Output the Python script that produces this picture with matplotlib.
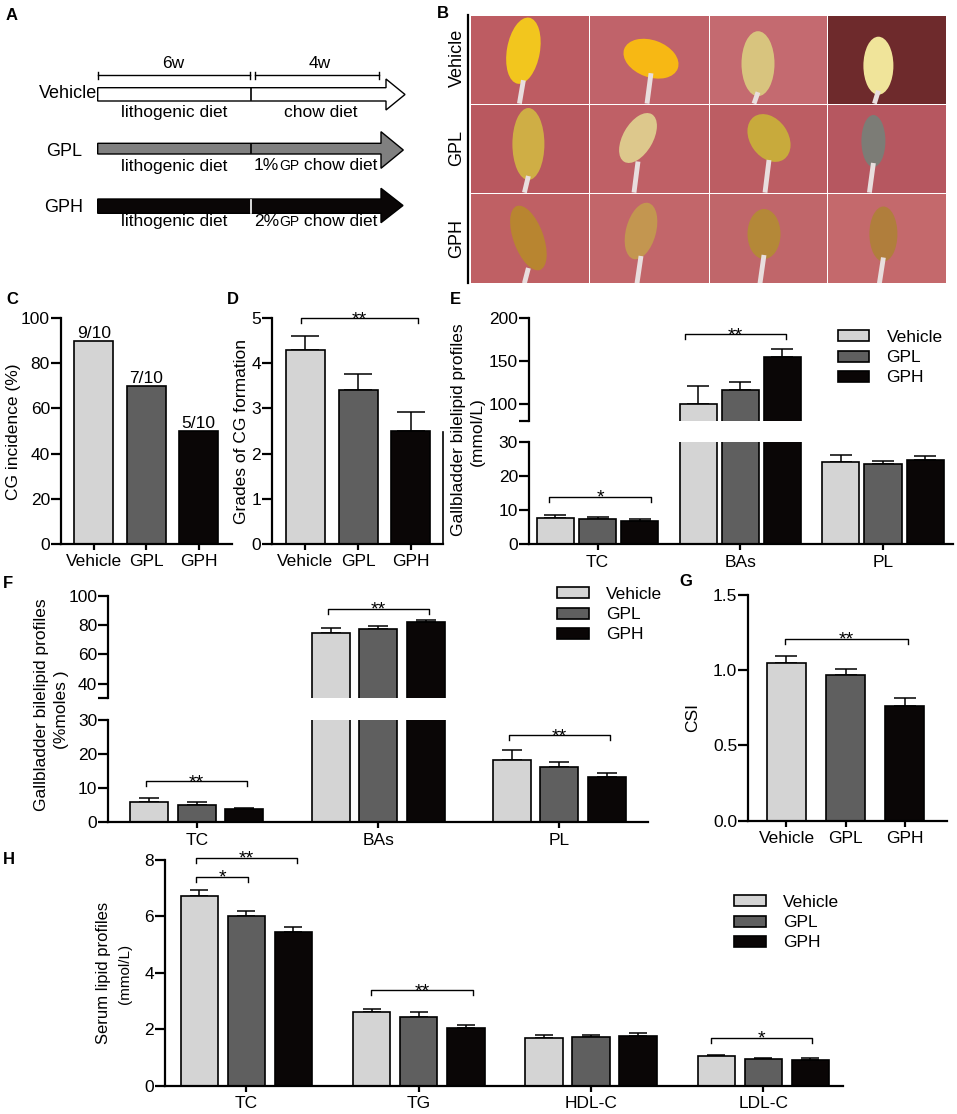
import numpy as np
import matplotlib
matplotlib.use('Agg')
import matplotlib.pyplot as plt
from matplotlib.patches import Polygon, Rectangle, Ellipse, Patch

plt.rcParams['font.family'] = ['Liberation Sans', 'DejaVu Sans']
plt.rcParams['font.size'] = 12

W, H = 957, 1114
groups = ['Vehicle', 'GPL', 'GPH']
colors = ['#d4d4d4', '#5f5f5f', '#0a0606']

# C: gallstone incidence
incidence = [90, 70, 50]
incidence_txt = ['9/10', '7/10', '5/10']

# D: grades of CG formation
grade_mean = [4.3, 3.4, 2.5]
grade_err = [0.3, 0.37, 0.42]

# E: gallbladder bile lipids (mmol/L)
bile_cats = ['TC', 'BAs', 'PL']
e_mean = [[7.8, 99.6, 24.1], [7.5, 116.0, 23.5], [6.85, 154.5, 24.8]]
e_err = [[0.8, 21.2, 2.1], [0.4, 10.0, 0.9], [0.45, 9.8, 1.1]]

# F: gallbladder bile lipids (% moles)
f_mean = [[6.0, 74.7, 18.3], [5.1, 77.4, 16.3], [3.8, 82.0, 13.4]]
f_err = [[1.0, 3.4, 2.9], [0.8, 2.2, 1.5], [0.4, 1.6, 1.1]]

# G: cholesterol saturation index
csi_mean = [1.05, 0.967, 0.765]
csi_err = [0.045, 0.042, 0.053]

# H: serum lipids (mmol/L)
serum_cats = ['TC', 'TG', 'HDL-C', 'LDL-C']
h_mean = [[6.72, 2.62, 1.70, 1.04], [6.0, 2.45, 1.73, 0.95], [5.46, 2.06, 1.77, 0.91]]
h_err = [[0.21, 0.11, 0.11, 0.06], [0.21, 0.16, 0.08, 0.04], [0.17, 0.10, 0.09, 0.06]]

fig = plt.figure(figsize=(W / 100, H / 100), dpi=100)
ax0 = fig.add_axes([0, 0, 1, 1], zorder=0)
ax0.set_xlim(0, W)
ax0.set_ylim(H, 0)
ax0.axis('off')


def px_axes(x0, y0, x1, y1):
    ax = fig.add_axes([x0 / W, 1 - y1 / H, (x1 - x0) / W, (y1 - y0) / H], zorder=1)
    ax.patch.set_alpha(0)
    for s in ['top', 'right']:
        ax.spines[s].set_visible(False)
    for s in ['left', 'bottom']:
        ax.spines[s].set_linewidth(1.6)
    ax.tick_params(axis='y', width=1.6, length=7, labelsize=12.5, pad=1)
    ax.tick_params(axis='x', width=1.6, length=4.5, labelsize=12.5, pad=3)
    return ax


def bars(ax, means, errs, width, offset, capsize):
    n = len(means[0])
    x = np.arange(n)
    for i in range(3):
        xi = x + (i - 1) * offset
        ax.bar(xi, means[i], width, color=colors[i], edgecolor='k', linewidth=1.2, zorder=2)
        ax.errorbar(xi, means[i], yerr=[np.zeros(n), errs[i]], fmt='none', ecolor='k',
                    elinewidth=1.1, capsize=capsize, capthick=1.1, zorder=1)


def bracket(ax, x1, x2, y, label, tick=5, fs=14):
    pos = ax.get_position()
    lo, hi = ax.get_ylim()
    upp = (hi - lo) / (pos.height * H)
    ax.plot([x1, x1, x2, x2], [y - tick * upp, y, y, y - tick * upp], color='k', lw=1.0,
            clip_on=False)
    ax.text((x1 + x2) / 2, y - 6 * upp, label, ha='center', va='baseline', fontsize=fs,
            clip_on=False)


def legend(ax, x, y):
    handles = [Patch(facecolor=c, edgecolor='k', linewidth=1.2) for c in colors]
    ax.legend(handles, groups, loc='upper left', bbox_to_anchor=(x / W, 1 - y / H),
              bbox_transform=fig.transFigure, frameon=False, borderpad=0, borderaxespad=0,
              handlelength=1.8, handleheight=0.6, handletextpad=1.0, labelspacing=0.3,
              fontsize=12.5)


# panel letters
for letter, (lx, ly) in {'A': (12, 15), 'B': (443, 13), 'C': (12, 300), 'D': (233, 300),
                         'E': (455, 299), 'F': (8, 584), 'G': (686, 581), 'H': (9, 859)}.items():
    ax0.text(lx, ly, letter, fontsize=12, fontweight='bold', ha='center', va='center')

# ---------------- A: study design ----------------
ax0.plot([97.7, 250], [75, 75], color='k', lw=1)
ax0.plot([255, 379], [75, 75], color='k', lw=1)
for xx in [97.7, 250, 255, 379]:
    ax0.plot([xx, xx], [71.5, 78.5], color='k', lw=1)
ax0.text(173, 63, '6w', ha='center', va='center', fontsize=12.5)
ax0.text(320, 63, '4w', ha='center', va='center', fontsize=12.5)

arrows = [('Vehicle', 'white', 'k', 87.7, 101, 386, 79, 110, 405),
          ('GPL', '#808080', 'k', 143.3, 154, 381, 131.7, 168.3, 403.3),
          ('GPH', '#0a0606', 'white', 199, 213.3, 381, 188.3, 222.7, 403)]
for name, fc, divc, yt, yb, xh, ht, hb, tip in arrows:
    ym = (ht + hb) / 2
    pts = [(97.7, yt), (xh, yt), (xh, ht), (tip, ym), (xh, hb), (xh, yb), (97.7, yb)]
    ax0.add_patch(Polygon(pts, closed=True, facecolor=fc, edgecolor='k', lw=1.0, zorder=1))
    ax0.plot([251, 251], [yt + 0.6, yb - 0.6], color=divc, lw=1.2, zorder=1.5)
ax0.text(97, 94, 'Vehicle', ha='right', va='center', fontsize=13)
ax0.text(64, 151, 'GPL', ha='center', va='center', fontsize=13)
ax0.text(64, 207, 'GPH', ha='center', va='center', fontsize=13)
for yy in [117, 170.5, 226]:
    ax0.text(174, yy, 'lithogenic diet', ha='center', va='baseline', fontsize=12.5, zorder=3)
ax0.text(321, 117, 'chow diet', ha='center', va='baseline', fontsize=12.5, zorder=3)
for yy, pct in [(170.5, '1%'), (226, '2%')]:
    ax0.text(254, yy, pct, ha='left', va='baseline', fontsize=12.5, zorder=3)
    ax0.text(279, yy, 'GP', ha='left', va='baseline', fontsize=10, zorder=3)
    ax0.text(299, yy, ' chow diet', ha='left', va='baseline', fontsize=12.5, zorder=3)

# ---------------- B: gallbladder photos (schematic) ----------------
col_edges = [470.7, 589.3, 709.3, 827.7, 946.7]
row_edges = [15, 104.3, 193.3, 284]
photo_bg = [['#bd5c62', '#c0636a', '#c46a70', '#6e2a2c'],
            ['#b9585f', '#bf6066', '#bc5d63', '#b65760'],
            ['#bf6064', '#c2666a', '#c0666a', '#c4696c']]
gb_color = [['#f2c61e', '#f7b814', '#d8c47e', '#f0e49a'],
            ['#cfae45', '#ddc88c', '#c8aa3c', '#7c7c76'],
            ['#b88530', '#c39650', '#b48838', '#b07e3c']]
gb_shape = [[(52, 35, 33, 67, 10), (61, 43, 57, 37, 20), (48, 48, 33, 65, 0), (50, 50, 30, 58, 0)],
            [(57, 39, 32, 72, 0), (48, 33, 30, 55, 30), (59, 33, 38, 52, -35), (45, 36, 24, 52, 0)],
            [(57, 44, 30, 68, -20), (51, 37, 30, 58, 15), (54, 40, 33, 50, 0), (55, 40, 28, 55, 0)]]
ax0.add_patch(Rectangle((col_edges[0], row_edges[0]), col_edges[-1] - col_edges[0],
                        row_edges[-1] - row_edges[0], facecolor='white', edgecolor='none'))
for r in range(3):
    for c in range(4):
        x0, x1 = col_edges[c] + 0.7, col_edges[c + 1] - 0.7
        y0, y1 = row_edges[r] + 0.7, row_edges[r + 1] - 0.7
        cell = Rectangle((x0, y0), x1 - x0, y1 - y0, facecolor=photo_bg[r][c], edgecolor='none')
        ax0.add_patch(cell)
        cx, cy, ew, eh, ang = gb_shape[r][c]
        duct, = ax0.plot([x0 + cx, x0 + cx - 4], [y0 + cy + eh / 2 - 4, y1], color='#e8dede',
                         lw=3.5, solid_capstyle='butt')
        duct.set_clip_path(cell)
        gb = Ellipse((x0 + cx, y0 + cy), ew, eh, angle=ang, facecolor=gb_color[r][c],
                     edgecolor='none')
        ax0.add_patch(gb)
        gb.set_clip_path(cell)
ax0.plot([468.3, 468.3], [15, 283], color='k', lw=1.6)
for name, yy in zip(groups, [58, 148, 238]):
    ax0.text(457, yy, name, rotation=90, ha='center', va='center', fontsize=13)

# ---------------- C ----------------
axC = px_axes(61, 318, 231.7, 544)
xc = np.arange(3)
axC.bar(xc, incidence, 0.74, color=colors, edgecolor='k', linewidth=1.2)
for xi, v, t in zip(xc, incidence, incidence_txt):
    axC.text(xi, v, t, ha='center', va='bottom', fontsize=12.5)
axC.set_xlim(-0.623, 2.63)
axC.set_ylim(0, 100)
axC.set_yticks(range(0, 101, 20))
axC.set_xticks(xc)
axC.set_xticklabels(groups)
ax0.text(13.5, 432, 'CG incidence (%)', rotation=90, ha='center', va='center', fontsize=12.5)

# ---------------- D ----------------
axD = px_axes(272, 318, 443, 544)
axD.bar(xc, grade_mean, 0.74, color=colors, edgecolor='k', linewidth=1.2, zorder=2)
axD.errorbar(xc, grade_mean, yerr=[np.zeros(3), grade_err], fmt='none', ecolor='k',
             elinewidth=1.1, capsize=10, capthick=1.1, zorder=1)
axD.set_xlim(-0.635, 2.61)
axD.set_ylim(0, 5)
axD.set_yticks(range(0, 6))
axD.set_xticks(xc)
axD.set_xticklabels(groups)
bracket(axD, -0.085, 2.13, 4.99, '**')
ax0.text(241.7, 431, 'Grades of CG formation', rotation=90, ha='center', va='center',
         fontsize=12.5)
ax0.plot([443, 443], [432, 544], color='k', lw=1.2)

# ---------------- E (broken axis) ----------------
axEu = px_axes(529, 318, 953, 421)
axEl = px_axes(529, 442.3, 953, 544.3)
for ax in (axEu, axEl):
    bars(ax, e_mean, e_err, 0.26, 0.295, 7.6)
    ax.set_xlim(-0.48, 2.49)
axEu.set_ylim(80, 200)
axEu.set_yticks([80, 100, 150, 200])
axEu.set_yticklabels(['', '100', '150', '200'])
axEu.spines['bottom'].set_visible(False)
axEu.set_xticks([])
axEl.set_ylim(0, 30)
axEl.set_yticks([0, 10, 20, 30])
axEl.set_xticks(range(3))
axEl.set_xticklabels(bile_cats)
bracket(axEl, -0.34, 0.375, 14, '*')
bracket(axEu, 0.61, 1.318, 181, '**')
legend(axEu, 838, 330)
ax0.text(458.6, 430, 'Gallbladder bilelipid profiles', rotation=90, ha='center',
         va='center', fontsize=12.5)
ax0.text(477, 431.7, '(mmol/L)', rotation=90, ha='center', va='center', fontsize=12.5)

# ---------------- F (broken axis) ----------------
axFu = px_axes(108.3, 596, 648.3, 698.3)
axFl = px_axes(108.3, 720, 648.3, 822.3)
for ax in (axFu, axFl):
    bars(ax, f_mean, f_err, 0.21, 0.262, 7.4)
    ax.set_xlim(-0.488, 2.49)
axFu.set_ylim(30, 100)
axFu.set_yticks([30, 40, 60, 80, 100])
axFu.set_yticklabels(['', '40', '60', '80', '100'])
axFu.spines['bottom'].set_visible(False)
axFu.set_xticks([])
axFl.set_ylim(0, 30)
axFl.set_yticks([0, 10, 20, 30])
axFl.set_xticks(range(3))
axFl.set_xticklabels(bile_cats)
bracket(axFl, -0.28, 0.279, 12, '**')
bracket(axFu, 0.722, 1.281, 91.2, '**')
bracket(axFl, 1.722, 2.28, 25.5, '**')
legend(axFu, 557.3, 587)
ax0.text(41.7, 705, 'Gallbladder bilelipid profiles', rotation=90, ha='center',
         va='center', fontsize=12.5)
ax0.text(61.7, 710, '(%moles )', rotation=90, ha='center', va='center', fontsize=12.5)

# ---------------- G ----------------
axG = px_axes(748.3, 595, 946.7, 820.7)
axG.bar(xc, csi_mean, 0.66, color=colors, edgecolor='k', linewidth=1.2, zorder=2)
axG.errorbar(xc, csi_mean, yerr=[np.zeros(3), csi_err], fmt='none', ecolor='k',
             elinewidth=1.1, capsize=8, capthick=1.1, zorder=1)
axG.set_xlim(-0.646, 2.71)
axG.set_ylim(0, 1.5)
axG.set_yticks([0, 0.5, 1.0, 1.5])
axG.set_yticklabels(['0.0', '0.5', '1.0', '1.5'])
axG.set_xticks(xc)
axG.set_xticklabels(groups)
bracket(axG, -0.02, 2.05, 1.21, '**')
ax0.text(693, 718, 'CSI', rotation=90, ha='center', va='center', fontsize=12.5)

# ---------------- H ----------------
axH = px_axes(165, 860, 843.3, 1085.7)
bars(axH, h_mean, h_err, 0.218, 0.273, 6.5)
axH.set_xlim(-0.472, 3.464)
axH.set_ylim(0, 8)
axH.set_yticks(range(0, 9, 2))
axH.set_xticks(range(4))
axH.set_xticklabels(serum_cats)
bracket(axH, -0.292, 0.296, 8.08, '**')
bracket(axH, -0.292, 0.012, 7.41, '*')
bracket(axH, 0.724, 1.313, 3.39, '**')
bracket(axH, 2.695, 3.285, 1.70, '*')
legend(axH, 734.3, 895)
ax0.text(103.3, 973, 'Serum lipid profiles', rotation=90, ha='center', va='center',
         fontsize=12)
ax0.text(125, 974, '(mmol/L)', rotation=90, ha='center', va='center', fontsize=11)

fig.savefig('out.png', dpi=100)
